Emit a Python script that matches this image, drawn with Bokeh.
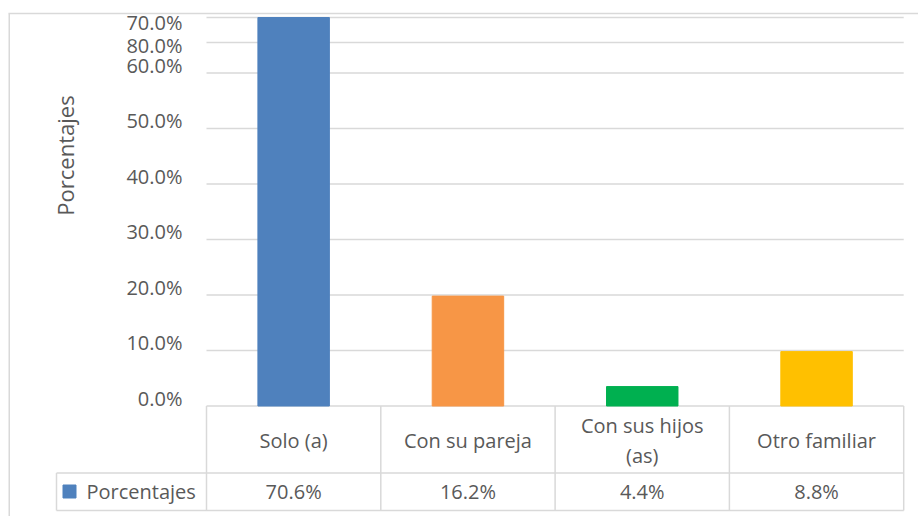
import numpy as np
from bokeh.plotting import figure
from bokeh.models import Range1d, ColumnDataSource
from bokeh.core.properties import value
from bokeh.embed import file_html
from bokeh.resources import INLINE

# ---- data ----
categories = ["Solo (a)", "Con su pareja", "Con sus hijos\n(as)", "Otro familiar"]
bar_values = [70.6, 19.8, 3.5, 9.8]          # bar heights as drawn (%)
table_values = ["70.6%", "16.2%", "4.4%", "8.8%"]  # data-table row
series_name = "Porcentajes"
axis_title = "Porcentajes"
tick_values = [0, 10, 20, 30, 40, 50, 60, 65.5, 70]
tick_labels = ["0.0%", "10.0%", "20.0%", "30.0%", "40.0%", "50.0%", "60.0%", "80.0%", "70.0%"]
bar_colors = ["#4f81bd", "#f79646", "#00b050", "#ffc000"]

# ---- layout (image pixels -> data) ----
W, H = 918, 516
PAGE = 0
PLOT_LEFT = 206.0      # image x of category 0 edge
CAT_W = 174.3          # px per category
BASE = 405.5           # image y of 0%
PPU = 5.55             # px per percent
Y_MAX = 70.0

def X(px):
    return (px - PLOT_LEFT) / CAT_W

def Y(py):
    return (BASE - py) / PPU

p = figure(width=W, height=H, output_backend="svg", toolbar_location=None,
           x_range=Range1d(X(PAGE), X(PAGE + W)), y_range=Range1d(Y(PAGE + H), Y(PAGE)),
           min_border=0, min_border_left=0, min_border_right=0,
           min_border_top=0, min_border_bottom=0)
p.axis.visible = False
p.grid.visible = False
p.outline_line_color = None
p.background_fill_color = "white"
p.border_fill_color = "white"

GRID = "#d9d9d9"
TXT = "#595959"
FONT = value("Open Sans")
FS = "20px"
n = len(categories)

# outer chart border (top & left)
p.segment(x0=[X(8), X(8.75)], y0=[Y(13), Y(13)], x1=[X(930), X(8.75)], y1=[Y(13), Y(530)],
          line_color=GRID, line_width=1.5)

# gridlines
p.segment(x0=[0] * len(tick_values), x1=[n] * len(tick_values), y0=tick_values, y1=tick_values,
          line_color=GRID, line_width=1.5)

# bars
xs = np.arange(n) + 0.5
src = ColumnDataSource(dict(x=xs, top=np.minimum(bar_values, Y_MAX), color=bar_colors))
p.vbar(x="x", top="top", bottom=0, width=0.41, color="color", source=src)

# y tick labels
offs = [-8] * 7 + [3, 5]
p.text(x=[X(182)] * len(tick_values), y=tick_values, text=tick_labels, y_offset=offs,
       text_align="right", text_baseline="middle", text_font=FONT,
       text_font_size=FS, text_color=TXT)

# axis title
p.text(x=[X(64)], y=[Y(155)], text=[axis_title], angle=np.pi / 2,
       text_align="center", text_baseline="middle", text_font=FONT,
       text_font_size="22px", text_color=TXT)

# data table lines
row_y = Y(472.5)
bot_y = Y(510)
p.segment(x0=[X(56), X(56)], x1=[n, n], y0=[row_y, bot_y], y1=[row_y, bot_y],
          line_color=GRID, line_width=1.5)
vx = list(range(n + 1))
p.segment(x0=vx, x1=vx, y0=[0] * len(vx), y1=[bot_y] * len(vx), line_color=GRID, line_width=1.5)
p.segment(x0=[X(56)], x1=[X(56)], y0=[row_y], y1=[bot_y], line_color=GRID, line_width=1.5)

# category labels
p.text(x=xs, y=[Y(440)] * n, text=categories, text_align="center", text_baseline="middle",
       text_font=FONT, text_font_size=FS, text_color=TXT, text_line_height=1.1)

# values row
p.text(x=xs, y=[Y(491)] * n, text=table_values, text_align="center", text_baseline="middle",
       text_font=FONT, text_font_size=FS, text_color=TXT)

# legend key
p.scatter(x=[X(69)], y=[Y(491)], marker="square", size=13, color=bar_colors[0])
p.text(x=[X(86)], y=[Y(491)], text=[series_name], text_align="left", text_baseline="middle",
       text_font=FONT, text_font_size=FS, text_color=TXT)

open("out.html", "w").write(file_html(p, INLINE))
